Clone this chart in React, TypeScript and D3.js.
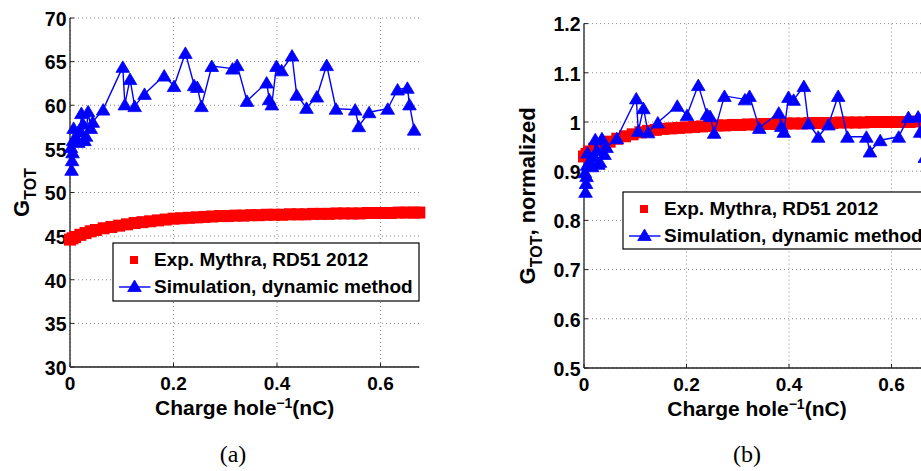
import React from 'react';
import * as d3 from 'd3';

// ---------- data ----------
const expX = [0, 0.005, 0.01, 0.02, 0.03, 0.04, 0.05, 0.065, 0.08, 0.095, 0.11, 0.125, 0.14, 0.155, 0.17, 0.185, 0.2, 0.215, 0.23, 0.245, 0.26, 0.275, 0.29, 0.305, 0.32, 0.335, 0.35, 0.365, 0.38, 0.395, 0.41, 0.425, 0.44, 0.455, 0.47, 0.485, 0.5, 0.515, 0.53, 0.545, 0.56, 0.575, 0.59, 0.605, 0.62, 0.635, 0.65, 0.665, 0.675];
const expGain = [44.6, 44.75, 44.9, 45.15, 45.35, 45.55, 45.7, 45.9, 46.05, 46.2, 46.35, 46.5, 46.6, 46.7, 46.8, 46.9, 47.0, 47.05, 47.1, 47.15, 47.2, 47.25, 47.3, 47.3, 47.35, 47.35, 47.4, 47.4, 47.45, 47.45, 47.45, 47.5, 47.5, 47.5, 47.55, 47.55, 47.55, 47.6, 47.6, 47.6, 47.6, 47.65, 47.65, 47.65, 47.65, 47.7, 47.7, 47.7, 47.7];
const expNorm = [0.93, 0.935, 0.94, 0.946, 0.951, 0.956, 0.96, 0.966, 0.971, 0.975, 0.979, 0.982, 0.984, 0.986, 0.987, 0.988, 0.989, 0.99, 0.991, 0.992, 0.993, 0.993, 0.994, 0.994, 0.995, 0.995, 0.996, 0.996, 0.996, 0.997, 0.997, 0.997, 0.998, 0.998, 0.998, 0.998, 0.999, 0.999, 0.999, 0.999, 1.0, 1.0, 1.0, 1.0, 1.0, 1.0, 1.001, 1.001, 1.001];

const simX = [0.002, 0.003, 0.004, 0.005, 0.006, 0.007, 0.012, 0.016, 0.02, 0.022, 0.025, 0.028, 0.031, 0.035, 0.04, 0.044, 0.064, 0.102, 0.106, 0.116, 0.125, 0.144, 0.182, 0.201, 0.223, 0.24, 0.246, 0.254, 0.274, 0.314, 0.323, 0.342, 0.38, 0.385, 0.39, 0.399, 0.409, 0.429, 0.438, 0.457, 0.477, 0.496, 0.514, 0.551, 0.558, 0.578, 0.614, 0.633, 0.652, 0.656, 0.665];
const simGain = [55.2, 52.6, 53.7, 54.6, 56.0, 57.4, 56.3, 55.8, 57.0, 59.1, 57.9, 56.0, 56.5, 59.3, 57.4, 58.1, 59.5, 64.4, 60.1, 63.0, 59.9, 61.3, 63.4, 62.2, 66.0, 62.3, 62.1, 59.9, 64.5, 64.2, 64.6, 60.5, 62.6, 60.7, 60.1, 64.5, 64.0, 65.7, 61.2, 59.7, 61.0, 64.6, 59.6, 59.5, 57.6, 59.2, 59.6, 61.8, 62.0, 60.1, 57.2];
const simNorm = [0.898, 0.858, 0.876, 0.89, 0.913, 0.938, 0.92, 0.91, 0.93, 0.965, 0.943, 0.915, 0.919, 0.967, 0.935, 0.949, 0.967, 1.048, 0.982, 1.028, 0.979, 0.999, 1.033, 1.014, 1.075, 1.016, 1.012, 0.978, 1.053, 1.046, 1.053, 0.988, 1.019, 0.992, 0.98, 1.051, 1.045, 1.073, 0.997, 0.97, 0.995, 1.053, 0.97, 0.97, 0.94, 0.963, 0.97, 1.01, 1.011, 0.98, 0.929];

const chargeTicks = [0, 0.2, 0.4, 0.6];
const gainTicks = [30, 35, 40, 45, 50, 55, 60, 65, 70];
const normTicks = [0.5, 0.6, 0.7, 0.8, 0.9, 1, 1.1, 1.2];
const legendLabels = ['Exp. Mythra, RD51 2012', 'Simulation, dynamic method'];
const captions = ['(a)', '(b)'];

const FONT = "'Liberation Sans', Arial, Helvetica, sans-serif";
const RED = '#ff0000';
const BLUE = '#0000ff';
const TRI = 'M0,-6L6.8,5.5L-6.8,5.5Z';
const SQ = 12;

type PanelProps = {
  left: number; right: number; top: number; bottom: number;
  xMax: number; yDomain: [number, number]; yTicks: number[];
  expY: number[]; simY: number[];
  yLabelX: number; yLabelRest: string;
  leg: { x: number; y: number; w: number; h: number };
  caption: string; captionX: number;
};

function Panel(p: PanelProps) {
  const xs = d3.scaleLinear().domain([0, p.xMax]).range([p.left, p.right]);
  const ys = d3.scaleLinear().domain(p.yDomain).range([p.bottom, p.top]);
  const line = d3.line<number>().x((_, i) => xs(simX[i])).y((d) => ys(d));
  const midY = (p.top + p.bottom) / 2;
  const xLabelX = (p.left + p.right) / 2;
  return (
    <g>
      {/* grid */}
      {p.yTicks.map((t) => (
        <line key={'gy' + t} x1={p.left} x2={p.right} y1={ys(t)} y2={ys(t)} stroke="#8a8a8a" strokeDasharray="1 3" strokeWidth={1} />
      ))}
      {chargeTicks.map((t) => (
        <line key={'gx' + t} x1={xs(t)} x2={xs(t)} y1={p.top} y2={p.bottom} stroke="#8a8a8a" strokeDasharray="1 3" strokeWidth={1} />
      ))}
      {/* axes */}
      <line x1={p.left} x2={p.left} y1={p.top} y2={p.bottom} stroke="#222" strokeWidth={1.3} />
      <line x1={p.left} x2={p.right} y1={p.bottom} y2={p.bottom} stroke="#222" strokeWidth={1.3} />
      {p.yTicks.map((t) => (
        <line key={'ty' + t} x1={p.left} x2={p.left + 4} y1={ys(t)} y2={ys(t)} stroke="#222" strokeWidth={1} />
      ))}
      {chargeTicks.map((t) => (
        <line key={'tx' + t} x1={xs(t)} x2={xs(t)} y1={p.bottom} y2={p.bottom - 4} stroke="#222" strokeWidth={1} />
      ))}
      {/* tick labels */}
      {p.yTicks.map((t) => (
        <text key={'ly' + t} x={p.left - 3.5} y={ys(t)} dy="0.4em" textAnchor="end" fontFamily={FONT} fontWeight="bold" fontSize={19.5} fill="#000">
          {String(t)}
        </text>
      ))}
      {chargeTicks.map((t) => (
        <text key={'lx' + t} x={xs(t)} y={p.bottom + 23} textAnchor="middle" fontFamily={FONT} fontWeight="bold" fontSize={19} fill="#000">
          {String(t)}
        </text>
      ))}
      {/* x label */}
      <text x={xLabelX} y={p.bottom + 48} textAnchor="middle" fontFamily={FONT} fontWeight="bold" fontSize={21} fill="#000">
        Charge hole<tspan dy={-7} fontSize={14}>−1</tspan><tspan dy={7}>(nC)</tspan>
      </text>
      {/* y label */}
      <text transform={`translate(${p.yLabelX},${midY}) rotate(-90)`} textAnchor="middle" fontFamily={FONT} fontWeight="bold" fontSize={22} fill="#000">
        G<tspan dy={7} fontSize={16}>TOT</tspan><tspan dy={-7}>{p.yLabelRest}</tspan>
      </text>
      {/* experimental squares */}
      {expX.map((x, i) => (
        <rect key={'e' + i} x={xs(x) - SQ / 2} y={ys(p.expY[i]) - SQ / 2} width={SQ} height={SQ} fill={RED} />
      ))}
      {/* simulation */}
      <path d={line(p.simY) || ''} fill="none" stroke={BLUE} strokeWidth={1.4} />
      {p.simY.map((v, i) => (
        <path key={'s' + i} d={TRI} transform={`translate(${xs(simX[i])},${ys(v)})`} fill={BLUE} stroke={BLUE} strokeWidth={0.8} />
      ))}
      {/* legend */}
      <rect x={p.leg.x} y={p.leg.y} width={p.leg.w} height={p.leg.h} fill="#fff" stroke="#000" strokeWidth={1.2} />
      <rect x={p.leg.x + 21 - 4} y={p.leg.y + 17 - 4} width={8} height={8} fill={RED} />
      <text x={p.leg.x + 41} y={p.leg.y + 23} fontFamily={FONT} fontWeight="bold" fontSize={19} fill="#000">{legendLabels[0]}</text>
      <line x1={p.leg.x + 6} x2={p.leg.x + 37.5} y1={p.leg.y + 44} y2={p.leg.y + 44} stroke={BLUE} strokeWidth={1.4} />
      <path d={TRI} transform={`translate(${p.leg.x + 21.5},${p.leg.y + 43})`} fill={BLUE} stroke={BLUE} strokeWidth={0.8} />
      <text x={p.leg.x + 41} y={p.leg.y + 50} fontFamily={FONT} fontWeight="bold" fontSize={19} fill="#000">{legendLabels[1]}</text>
      {/* caption */}
      <text x={p.captionX} y={462} textAnchor="middle" fontFamily="'Liberation Serif', 'Times New Roman', serif" fontSize={24} fill="#000">
        {p.caption}
      </text>
    </g>
  );
}

export default function App() {
  return (
    <svg width={921} height={471} viewBox="0 0 921 471" style={{ position: 'absolute', left: 0, top: 0, background: '#fff' }}>
      <rect x={0} y={0} width={921} height={471} fill="#fff" />
      <Panel
        left={70} right={70 + 0.675 * 517.5} top={18} bottom={367}
        xMax={0.675} yDomain={[30, 70]} yTicks={gainTicks}
        expY={expGain} simY={simGain}
        yLabelX={29} yLabelRest=""
        leg={{ x: 113, y: 243, w: 306, h: 58 }}
        caption={captions[0]} captionX={233}
      />
      <Panel
        left={584} right={584 + 0.675 * 512.5} top={23.6} bottom={368}
        xMax={0.675} yDomain={[0.5, 1.2]} yTicks={normTicks}
        expY={expNorm} simY={simNorm}
        yLabelX={535} yLabelRest=", normalized"
        leg={{ x: 623, y: 192, w: 306, h: 57 }}
        caption={captions[1]} captionX={747}
      />
    </svg>
  );
}
